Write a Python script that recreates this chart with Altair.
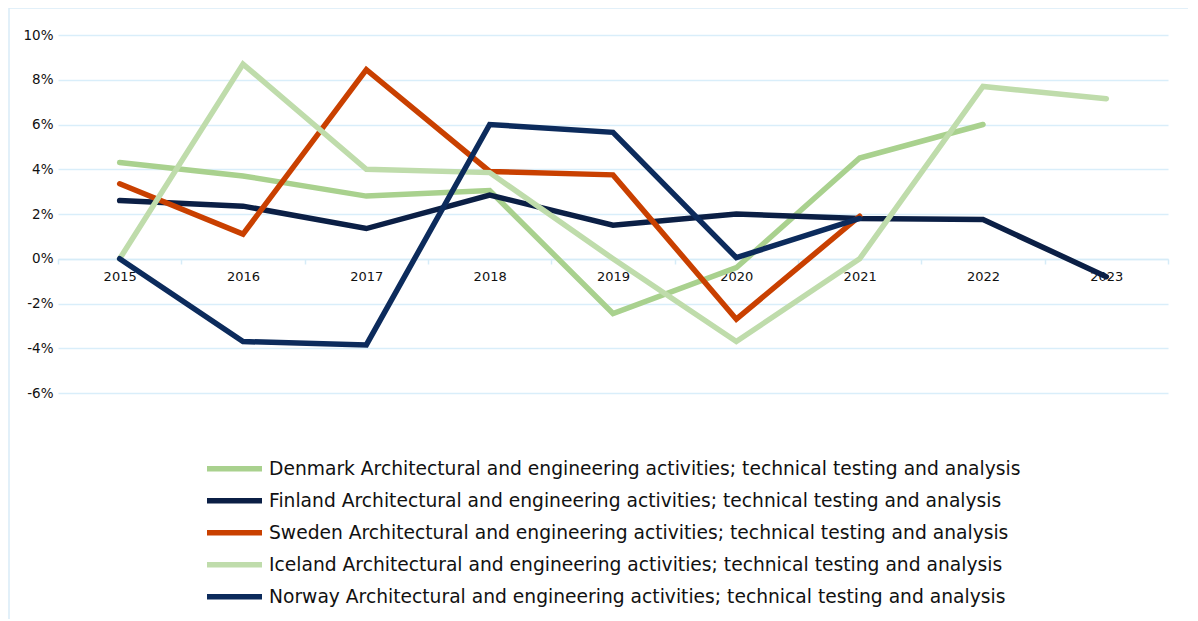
import altair as alt
import pandas as pd

years = ["2015", "2016", "2017", "2018", "2019", "2020", "2021", "2022", "2023"]
suffix = " Architectural and engineering activities; technical testing and analysis"
countries = ["Denmark", "Finland", "Sweden", "Iceland", "Norway"]
colors = ["#a9d18e", "#0b1f45", "#c94000", "#bfdcab", "#0c2b5c"]

denmark = [4.3, 3.7, 2.8, 3.05, -2.45, -0.4, 4.5, 6.0, None]
finland = [2.6, 2.35, 1.35, 2.85, 1.5, 2.0, 1.8, 1.75, -0.8]
sweden = [3.35, 1.1, 8.45, 3.9, 3.75, -2.7, 1.9, None, None]
iceland = [0.0, 8.7, 4.0, 3.85, 0.0, -3.7, 0.0, 7.7, 7.15]
norway = [0.0, -3.7, -3.85, 6.0, 5.65, 0.05, 1.8, None, None]

series = [denmark, finland, sweden, iceland, norway]
rows = []
for i, (c, vals) in enumerate(zip(countries, series)):
    for y, v in zip(years, vals):
        if v is not None:
            rows.append({"series": c + suffix, "year": y, "value": v / 100, "ord": i})
df = pd.DataFrame(rows)
names = [c + suffix for c in countries]

W, H = 1110, 358
FONT = "DejaVu Sans"

base = alt.Chart(df)

frame = alt.Chart(pd.DataFrame({"a": [0]})).mark_rect(
    fill=None, stroke="#d9ecf7", strokeWidth=1.5, clip=False
).encode(
    x=alt.value(-49), x2=alt.value(1131), y=alt.value(-27), y2=alt.value(640)
)

lines = base.mark_line(strokeWidth=5.5, strokeCap="round", strokeJoin="miter").encode(
    x=alt.X("year:O", sort=years, scale=alt.Scale(domain=years, paddingInner=0, paddingOuter=0),
            axis=alt.Axis(title=None, labelAngle=0, offset=-134, domainColor="#d6ecf8",
                          domainWidth=1.5, tickColor="#d6ecf8", tickWidth=1.5, tickSize=5,
                          tickBand="extent", labelFont=FONT, labelFontSize=13,
                          labelColor="#111111", labelPadding=6, grid=False)),
    y=alt.Y("value:Q", scale=alt.Scale(domain=[-0.06, 0.10], nice=False),
            axis=alt.Axis(title=None, values=[-0.06, -0.04, -0.02, 0, 0.02, 0.04, 0.06, 0.08, 0.10],
                          labelExpr="(datum.value < 0 ? '-' : '') + format(abs(datum.value), '.0%')",
                          domain=False, ticks=False, gridColor="#d9eefa", gridWidth=1.5,
                          labelFont=FONT, labelFontSize=13.5, labelColor="#111111", labelPadding=5)),
    color=alt.Color("series:N", sort=names,
                    scale=alt.Scale(domain=names, range=colors),
                    legend=alt.Legend(title=None, orient="none", legendX=146, legendY=418,
                                      direction="vertical",
                                      symbolType="stroke", symbolSize=3025, symbolStrokeWidth=5.5,
                                      labelFont=FONT, labelFontSize=18.7, labelColor="#111111",
                                      labelLimit=1000, clipHeight=31.5, rowPadding=0,
                                      labelOffset=4)),
    detail="ord:O",
    order="year:O",
)

chart = alt.layer(frame, lines).properties(
    width=W, height=H,
    padding={"left": 50, "top": 27, "right": 20, "bottom": 226},
    autosize=alt.AutoSizeParams(type="none"),
).configure(background="white").configure_view(stroke=None)

chart.save("out.html", embed_options={"renderer": "svg", "actions": False})
